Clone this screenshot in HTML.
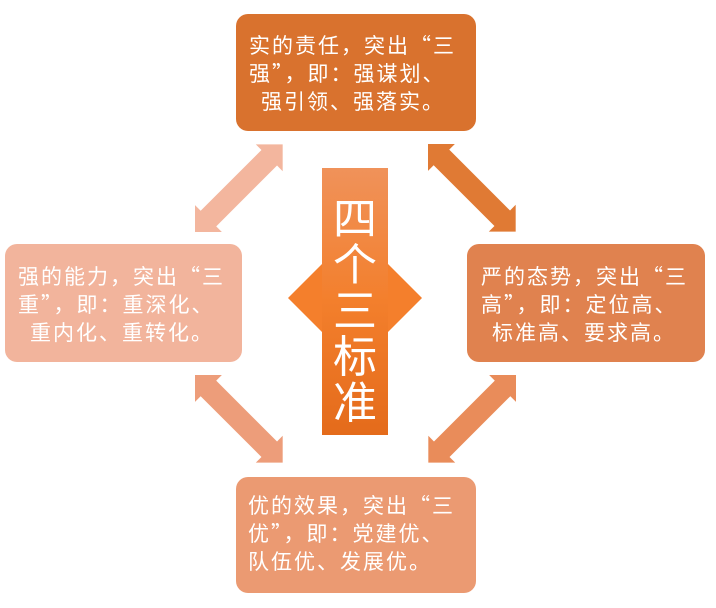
<!DOCTYPE html>
<html><head><meta charset="utf-8"><style>
html,body{margin:0;padding:0;background:#fff;width:716px;height:608px;overflow:hidden}
svg text{font-family:"Noto Sans CJK SC","Liberation Sans",sans-serif;fill:#fff}
</style></head><body>
<svg width="716" height="608" viewBox="0 0 716 608" xmlns="http://www.w3.org/2000/svg">
<defs>
<linearGradient id="cg" x1="0" y1="0" x2="0" y2="1">
<stop offset="0" stop-color="#f0925a"/><stop offset="0.5" stop-color="#f37f2c"/><stop offset="1" stop-color="#e46b1b"/>
</linearGradient>
<polygon id="ar" points="0,0 19,-19 19,-11 105,-11 105,-19 124,0 105,19 105,11 19,11 19,19"/>
</defs>
<use href="#ar" fill="#f3b69e" transform="translate(195,232) rotate(-45)"/>
<use href="#ar" fill="#e07a34" transform="translate(428,144) rotate(45)"/>
<use href="#ar" fill="#ed9d7a" transform="translate(195,375) rotate(45)"/>
<use href="#ar" fill="#e98c5a" transform="translate(516,375) rotate(135)"/>
<rect x="236" y="14" width="240" height="117" rx="12" fill="#d9722e"/>
<rect x="5" y="244" width="237" height="118" rx="12" fill="#f2b49c"/>
<rect x="467" y="244" width="238" height="118" rx="12" fill="#e0824f"/>
<rect x="236" y="477" width="240" height="116" rx="12" fill="#eb9a72"/>
<polygon points="288,298 322,264 388,264 422,298 388,332 322,332" fill="#f47f2c"/>
<rect x="322" y="168" width="66" height="267" fill="url(#cg)"/>
<g font-size="44" text-anchor="middle">
<text x="355" y="234">四</text>
<text x="355" y="280">个</text>
<text x="355" y="326">三</text>
<text x="355" y="372">标</text>
<text x="355" y="418">准</text>
</g>
<g font-size="21" letter-spacing="2">
<text x="249" y="53">实的责任，突出“三</text>
<text x="249" y="81">强”，即：强谋划、</text>
<text x="261" y="109">强引领、强落实。</text>
<text x="18" y="284">强的能力，突出“三</text>
<text x="18" y="312">重”，即：重深化、</text>
<text x="30" y="340">重内化、重转化。</text>
<text x="481" y="284">严的态势，突出“三</text>
<text x="481" y="312">高”，即：定位高、</text>
<text x="492" y="340">标准高、要求高。</text>
<text x="248" y="513">优的效果，突出“三</text>
<text x="248" y="541">优”，即：党建优、</text>
<text x="248" y="569">队伍优、发展优。</text>
</g>
</svg>
</body></html>
